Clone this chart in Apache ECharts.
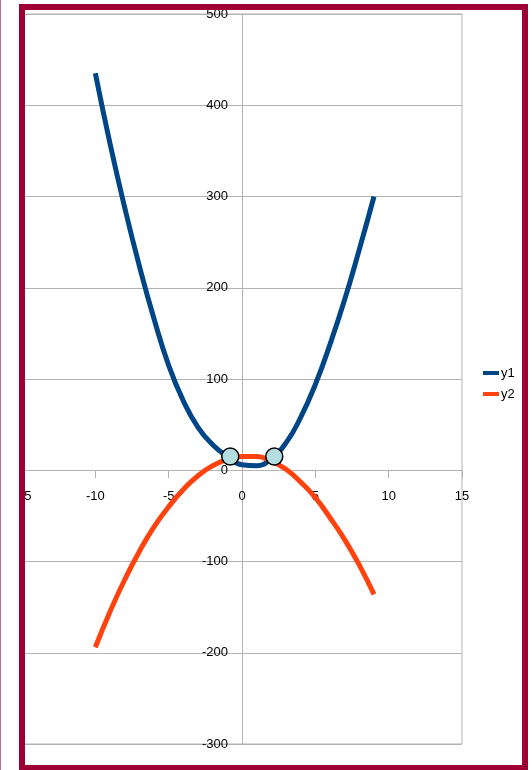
<!DOCTYPE html>
<html>
<head>
<meta charset="utf-8">
<script src="https://cdn.jsdelivr.net/npm/echarts@6/dist/echarts.min.js"></script>
<style>
html, body { margin: 0; padding: 0; background: #fff; }
#chart { width: 532px; height: 770px; }
</style>
</head>
<body>
<div id="chart"></div>
<script>
// data
var xValues  = [-10, -9, -8, -7, -6, -5, -4, -3, -2, -1, 0, 1, 2, 3, 4, 5, 6, 7, 8, 9];
var y1Values = [435, 358, 288, 224, 166, 115, 76, 47, 28, 15, 6, 5, 13, 30, 58, 94, 138, 187, 242, 300];
var y2Values = [-194, -155, -120, -89, -62, -40, -21, -6, 5, 12, 15, 15, 10, 1, -13, -30, -52, -76, -104, -136];
var seriesNames = ['y1', 'y2'];
// the two marked crossing points
var crossX = [-0.8, 2.2];
var crossY = [15, 15];

function pairs(xs, ys) {
    return xs.map(function (x, i) { return [x, ys[i]]; });
}

var chart = echarts.init(document.getElementById('chart'));
var font = 'Liberation Sans, Arial, sans-serif';
var gridColor = '#b3b3b3';

// plot box in pixels; the axes cross at x = 0, y = 0
var gridLeft = 22, gridTop = 14, gridW = 440, gridH = 730;
var xMin = -15, xMax = 15, yMin = -300, yMax = 500;
var zeroOffsetX = -gridH * (0 - yMin) / (yMax - yMin);   // move x axis up to y = 0
var zeroOffsetY = -gridW * (0 - xMin) / (xMax - xMin);   // move y axis right to x = 0

var option = {
    backgroundColor: '#fff',
    animation: false,
    grid: {
        left: gridLeft, top: gridTop, width: gridW, height: gridH,
        show: true, borderColor: gridColor, borderWidth: 1,
        outerBoundsMode: 'none'
    },
    legend: {
        data: seriesNames,
        orient: 'vertical',
        left: 483, top: 366,
        itemWidth: 16, itemHeight: 4,
        itemGap: 7,
        icon: 'rect',
        padding: 0,
        textStyle: { fontFamily: font, fontSize: 13, color: '#000', lineHeight: 14, padding: [0, 0, 0, -3] }
    },
    xAxis: {
        type: 'value', position: 'bottom', offset: zeroOffsetX,
        min: xMin, max: xMax, interval: 5,
        axisLine: { onZero: false, lineStyle: { color: gridColor, width: 1 } },
        axisTick: { show: true, length: 8, lineStyle: { color: gridColor } },
        axisLabel: { margin: 20, fontFamily: font, fontSize: 13, color: '#000', showMinLabel: true, showMaxLabel: true },
        splitLine: { show: false }
    },
    yAxis: {
        type: 'value', position: 'left', offset: zeroOffsetY,
        min: yMin, max: yMax, interval: 100,
        axisLine: { show: true, onZero: false, lineStyle: { color: gridColor, width: 1 } },
        axisTick: { show: false },
        axisLabel: { margin: 14, fontFamily: font, fontSize: 13, color: '#000', showMinLabel: true, showMaxLabel: true },
        splitLine: { show: true, lineStyle: { color: gridColor, width: 1 } }
    },
    series: [
        {
            name: 'y1', type: 'line', smooth: 0.5, showSymbol: false,
            data: pairs(xValues, y1Values),
            itemStyle: { color: '#004586' },
            lineStyle: { color: '#004586', width: 5 }
        },
        {
            name: 'y2', type: 'line', smooth: 0.5, showSymbol: false,
            data: pairs(xValues, y2Values),
            itemStyle: { color: '#ff420e' },
            lineStyle: { color: '#ff420e', width: 5 }
        },
        {
            name: 'cross', type: 'scatter', z: 5,
            symbolSize: 17,
            data: pairs(crossX, crossY),
            itemStyle: { color: '#b3dde0', opacity: 1, borderColor: '#000', borderWidth: 1.5 }
        }
    ],
    graphic: [
        // white strip outside the frame, hides the cut-off "-1"
        { type: 'rect', z: 100, shape: { x: 1, y: 0, width: 18, height: 770 }, style: { fill: '#fff' } },
        { type: 'rect', z: 101, shape: { x: 0, y: 0, width: 1, height: 770 }, style: { fill: '#c76b90' } },
        { type: 'rect', z: 101, shape: { x: 22, y: 7, width: 503, height: 761 },
          style: { fill: 'none', stroke: '#9e0036', lineWidth: 6 } }
    ]
};

chart.setOption(option);
</script>
</body>
</html>
